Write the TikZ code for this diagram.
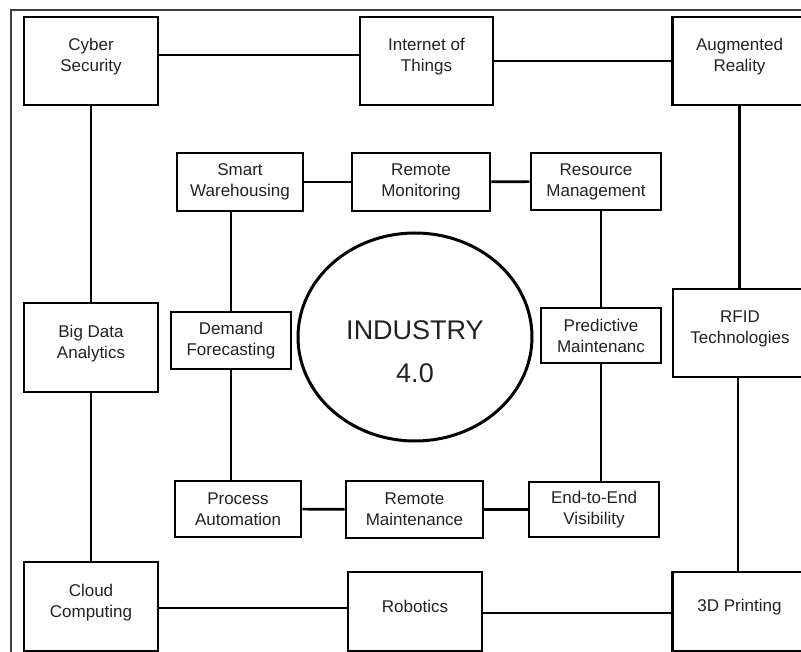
\documentclass[tikz,border=0pt]{standalone}
\usepackage{fontspec}
\setmainfont{Liberation Sans}
\usetikzlibrary{shapes.geometric}
\definecolor{txt}{HTML}{222222}
\definecolor{frame}{HTML}{404040}
\begin{document}
\begin{tikzpicture}[x=1pt,y=-1pt,
  box/.style={draw=black,line width=2.6pt,rectangle,inner sep=0pt,align=center,
    text=txt,font=\fontsize{17}{21}\selectfont},
  obox/.style={box,minimum width=134pt,minimum height=88pt},
  lbl/.style={inner sep=0pt,align=center,text=txt,font=\fontsize{17}{21}\selectfont},
  conn/.style={draw=black,line width=2.6pt},
  hub/.style={draw=black,line width=3pt,ellipse,minimum width=234pt,minimum height=208pt},
  hubtext/.style={inner sep=0pt,align=center,text=txt,font=\fontsize{27}{43}\selectfont}]
\useasboundingbox (0,0) rectangle (801,652);
\clip (0,0) rectangle (801,652);
\fill[white] (0,0) rectangle (801,652);
% frame
\draw[frame,line width=1.6pt] (11,652) -- (11,10) -- (801,10);
% outer ring boxes
\node[obox] (cs)  at (91,61) {};
\node[obox,minimum width=133pt] (iot) at (426.5,61) {};
\node[obox] (ar)  at (739.5,61) {};
\node[obox,minimum height=89pt] (bda) at (91,347.5) {};
\node[obox] (rfid) at (740,333) {};
\node[obox,minimum height=89pt] (cc) at (91,606.5) {};
\node[obox,minimum height=79pt] (rob) at (415,611.5) {};
\node[obox,minimum height=79pt] (tdp) at (739.5,611.5) {};
% outer ring labels
\node[lbl] (cs-t)   at ([yshift=4pt]cs.center)   {Cyber\\Security};
\node[lbl] (iot-t)  at ([yshift=4pt]iot.center)  {Internet of\\Things};
\node[lbl] (ar-t)   at ([yshift=4pt]ar.center)   {Augmented\\Reality};
\node[lbl] (bda-t)  at ([yshift=4pt]bda.center)  {Big Data\\Analytics};
\node[lbl] (rfid-t) at ([yshift=4pt]rfid.center) {RFID\\Technologies};
\node[lbl] (cc-t)   at ([yshift=4pt]cc.center)   {Cloud\\Computing};
\node[lbl] (rob-t)  at ([yshift=5pt]rob.center)  {Robotics};
\node[lbl] (tdp-t)  at ([yshift=4pt]tdp.center)  {3D Printing};
% inner ring
\node[box,minimum width=126pt,minimum height=58pt] (sw)   at (240,182)   {Smart\\Warehousing};
\node[box,minimum width=138pt,minimum height=58pt] (rmon) at (421,182)   {Remote\\Monitoring};
\node[box,minimum width=130pt,minimum height=57pt] (resm) at (596,181.5) {Resource\\Management};
\node[box,minimum width=120pt,minimum height=57pt] (df)   at (231,340.5) {Demand\\Forecasting};
\node[box,minimum width=120pt,minimum height=55pt] (pm)   at (601,335.5) {Predictive\\Maintenanc};
\node[box,minimum width=126pt,minimum height=56pt] (pa)   at (238,509)   {Process\\Automation};
\node[box,minimum width=137pt,minimum height=57pt] (rmai) at (414.5,509.5) {Remote\\Maintenance};
\node[box,minimum width=130pt,minimum height=55pt] (e2e)  at (594,509.5) {End-to-End\\Visibility};
% hub
\node[hub] (hub) at (415,337) {};
\node[hubtext] (hub-t) at ([yshift=-15pt]hub.center) {INDUSTRY\\4.0};
% outer connectors
\draw[conn] ([yshift=6pt]cs.east) -- ([yshift=6pt]cs.east -| iot.west);
\draw[conn] (iot) -- (ar);
\draw[conn] (cs) -- (bda);
\draw[conn] (bda) -- (cc);
\draw[conn] (ar.south) -- (ar.south |- rfid.north);
\draw[conn] ([xshift=-2pt]rfid.south) -- ([xshift=-2pt]rfid.south |- tdp.north);
\draw[conn] ([yshift=-1.5pt]cc.east) -- ([yshift=-1.5pt]cc.east -| rob.west);
\draw[conn] ([yshift=-1.5pt]rob.east) -- ([yshift=-1.5pt]rob.east -| tdp.west);
% inner connectors
\draw[conn] (sw) -- (rmon);
\draw[conn] (rmon) -- (resm);
\draw[conn] (df.north) -- (df.north |- sw.south);
\draw[conn] (df.south) -- (df.south |- pa.north);
\draw[conn] (pm.north) -- (pm.north |- resm.south);
\draw[conn] (pm.south) -- (pm.south |- e2e.north);
\draw[conn] (pa) -- (rmai);
\draw[conn] (rmai) -- (e2e);
\end{tikzpicture}
\end{document}
